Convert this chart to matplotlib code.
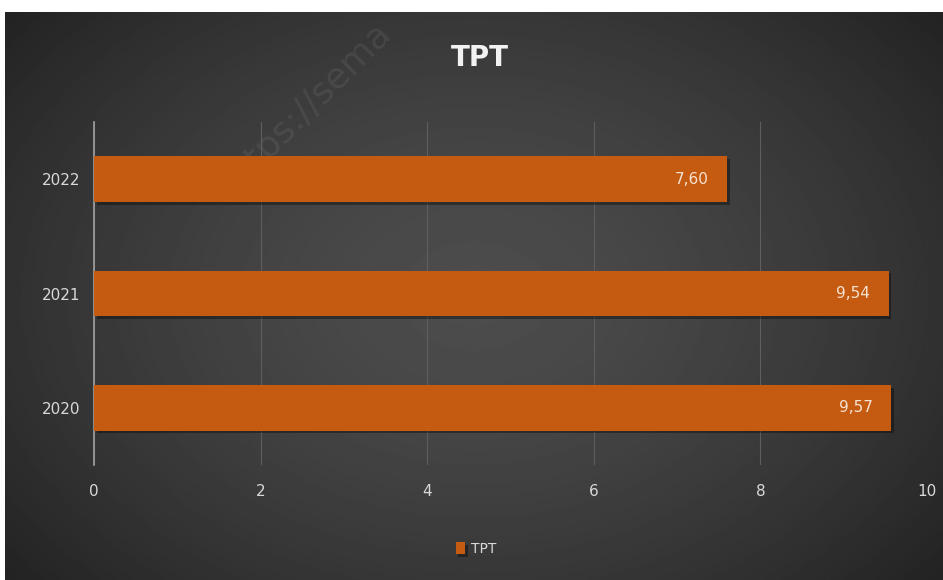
import matplotlib.pyplot as plt
import matplotlib.patheffects as pe
import numpy as np

years = ['2020', '2021', '2022']
values = [9.57, 9.54, 7.60]
labels = ['9,57', '9,54', '7,60']
title = 'TPT'

W, H = 943, 580
fig = plt.figure(figsize=(W / 100, H / 100), dpi=100)
fig.patch.set_facecolor('white')

# dark radial background (white strip on top and left like the screenshot)
bg = fig.add_axes([5 / W, 0, 938 / W, 568 / H])
yy, xx = np.mgrid[-1:1:300j, -1:1:500j]
r = np.clip(np.sqrt(xx ** 2 + (yy / 1.2) ** 2), 0, 1.3)
shade = 0.30 - 0.11 * r ** 1.5
bg.imshow(shade, cmap='gray', vmin=0, vmax=1, aspect='auto', extent=[0, 1, 0, 1])
bg.set_axis_off()
bg.text(300 / 938, 1 - 95 / 568, 'https://sema', rotation=45, color='white',
        alpha=0.07, fontsize=26, ha='center', va='center', transform=bg.transAxes)

ax = fig.add_axes([94 / W, 115 / H, 833 / W, 343 / H])
ax.patch.set_alpha(0)
y = np.arange(len(years))
bars = ax.barh(y, values, height=0.4, color='#C55A11', zorder=3)
for b in bars:
    b.set_path_effects([pe.SimplePatchShadow(offset=(2, -2), shadow_rgbFace='black', alpha=0.35),
                        pe.Normal()])
for b, lab in zip(bars, labels):
    ax.text(b.get_width() - 0.22, b.get_y() + b.get_height() / 2, lab,
            ha='right', va='center', color='#f6e2d2', fontsize=11, zorder=4)

ax.set_xlim(0, 10)
ax.set_ylim(-0.5, 2.5)
ax.set_xticks(range(0, 11, 2))
ax.set_yticks(y, years)
ax.grid(axis='x', color='#5e5e5e', linewidth=0.8, zorder=0)
for s in ['top', 'right', 'bottom']:
    ax.spines[s].set_visible(False)
ax.spines['left'].set_color('#a0a0a0')
ax.spines['left'].set_linewidth(1.2)
ax.tick_params(length=0, colors='#d9d9d9', labelsize=11)
ax.tick_params(axis='x', pad=14)
ax.tick_params(axis='y', pad=10)

fig.text(480 / W, 1 - 58 / H, title, ha='center', va='center',
         color='#f2f2f2', fontsize=20, fontweight='bold')

leg = fig.legend([bars[0]], [title], loc='center', bbox_to_anchor=(476 / W, 1 - 549 / H),
                 frameon=False, fontsize=10, labelcolor='#d9d9d9',
                 handlelength=0.7, handleheight=0.9, handletextpad=0.4)

fig.savefig('out.png', dpi=100)
